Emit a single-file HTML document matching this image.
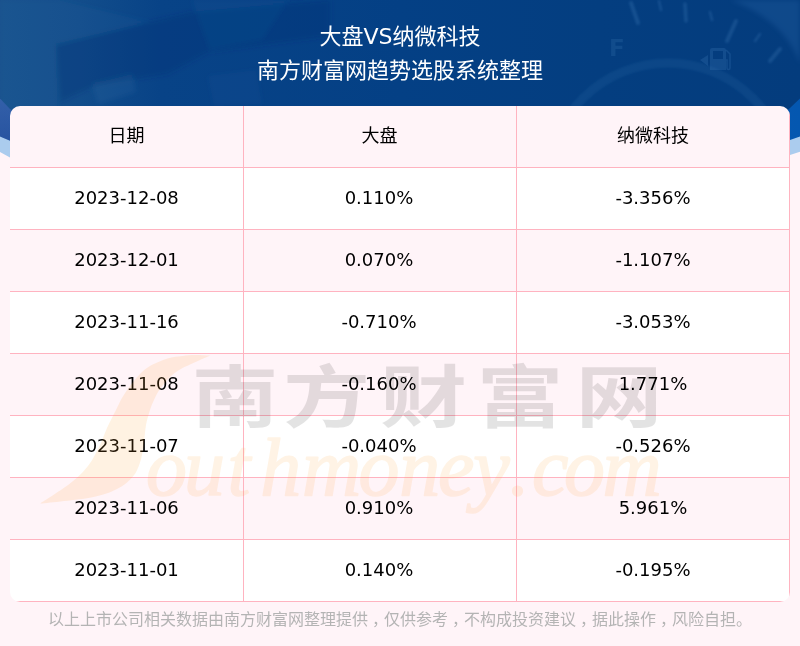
<!DOCTYPE html>
<html lang="zh-CN">
<head>
<meta charset="utf-8">
<title>大盘VS纳微科技</title>
<style>
html,body{margin:0;padding:0;}
body{width:800px;height:646px;position:relative;overflow:hidden;background:#fff4f8;font-family:"DejaVu Sans","Noto Sans CJK SC",sans-serif;}
#hdr{position:absolute;left:0;top:0;width:800px;height:170px;display:block;}
.title{position:absolute;left:0;top:20px;width:800px;text-align:center;color:#fff;font-size:22px;line-height:34px;}
table{position:absolute;left:10px;top:106px;width:780px;border-collapse:separate;border-spacing:0;border-radius:10px;overflow:hidden;table-layout:fixed;}
td,th{height:59px;padding:0 0 2px;border-right:1px solid #ffb3c0;border-bottom:1px solid #ffb3c0;text-align:center;vertical-align:middle;font-size:18px;font-weight:normal;color:#000;background:#fff;}
th{background:#fff4f8;height:56px;padding-bottom:5px;}
tr.alt td{background:#fff4f8;}
td:nth-child(2){padding-right:2px;}
th:nth-child(2){padding-right:1px;}
.foot{position:absolute;left:0;top:604.5px;width:800px;text-align:center;font-size:16px;line-height:26px;color:#b4b4b4;font-family:"Noto Sans CJK SC",sans-serif;}
#wm{position:absolute;left:0;top:0;width:800px;height:646px;pointer-events:none;}
.foot i{font-style:normal;position:relative;left:4px;}
</style>
</head>
<body>
<svg id="hdr" viewBox="0 0 800 170">
<defs>
<linearGradient id="gd" x1="0" y1="0" x2="1" y2="0">
<stop offset="0" stop-color="#17528d"/><stop offset="0.1" stop-color="#124d8b"/><stop offset="0.2" stop-color="#084387"/><stop offset="0.5" stop-color="#044085"/><stop offset="0.75" stop-color="#043e80"/><stop offset="1" stop-color="#043c7d"/>
</linearGradient>
<linearGradient id="gm" x1="0" y1="0" x2="1" y2="0">
<stop offset="0" stop-color="#3562ab"/><stop offset="1" stop-color="#0457b0"/>
</linearGradient>
<filter id="bl" x="-10%" y="-10%" width="120%" height="120%"><feGaussianBlur stdDeviation="2.5"/></filter>
<linearGradient id="gv" x1="0" y1="0" x2="0" y2="1"><stop offset="0" stop-color="#002a80" stop-opacity="0"/><stop offset="1" stop-color="#002a80" stop-opacity=".25"/></linearGradient>
<filter id="b2" x="-20%" y="-20%" width="140%" height="140%"><feGaussianBlur stdDeviation="1"/></filter>
<clipPath id="cd"><path d="M0 0H800V98.4L790 108L770 125H30L10 109L0 98.4Z"/></clipPath>
</defs>
<path d="M0 0H800V151.7L790 155L700 170H100L10 157.6L0 152Z" fill="#abccee"/>
<path d="M0 0H800V136.6L790 139.9L700 160H100L10 140.8L0 136.6Z" fill="url(#gm)"/>
<path d="M0 90V136.6L10 140.8V100Z" fill="url(#gv)"/>
<g clip-path="url(#cd)">
<rect width="800" height="170" fill="url(#gd)"/>
<g filter="url(#bl)">
<polygon points="56,44 192,12 330,0 330,36 208,52 168,74 94,86 60,102" fill="#003274" opacity=".30"/>
<polygon points="0,0 60,0 150,22 56,46 58,110 0,110" fill="#2a6aa8" opacity=".10"/>
<polygon points="192,0 288,0 262,40 210,50" fill="#2a6aa8" opacity=".10"/>
<polygon points="92,84 132,74 136,92 98,104" fill="#3a78b4" opacity=".13"/>
<polygon points="208,76 256,70 262,104 214,106" fill="#3a78b4" opacity=".08"/>
</g>
<circle cx="668" cy="183" r="120" fill="none" stroke="#4a8fd0" stroke-opacity=".10" stroke-width="9" filter="url(#b2)"/>
<path d="M730 0Q785 20 800 64V0Z" fill="#3a7cc0" opacity=".20" filter="url(#bl)"/>
<g stroke="#5a95d0" stroke-opacity=".20" stroke-linecap="round" filter="url(#b2)">
<path d="M631 3L638 23" stroke-width="4"/>
<path d="M659 1L661 10" stroke-width="2.5"/>
<path d="M685 4L686 21" stroke-width="3.5"/>
<path d="M710 12L712 20" stroke-width="2.5"/>
<path d="M736 21L727 41" stroke-width="4"/>
<path d="M760 34L755 41" stroke-width="2.5"/>
<path d="M780 49L770 61" stroke-width="4"/>
</g>
<text x="609" y="56" font-family="DejaVu Sans,sans-serif" font-weight="bold" font-size="23" fill="#5a95d0" fill-opacity=".16">F</text>
<g fill="#5a95d0" fill-opacity=".18">
<path d="M700 60L708 55V66Z"/>
<path d="M712 48h12a2 2 0 0 1 2 2v20h-16V50a2 2 0 0 1 2-2zM713 51v8h10v-8z" fill-rule="evenodd"/>
<path d="M726 50l4 4v14a1.5 1.5 0 0 1-3 0v-8h-1" fill="none" stroke="#5a95d0" stroke-opacity=".18" stroke-width="1.6"/>
</g>
</g>
</svg>
<div class="title">大盘VS纳微科技<br>南方财富网趋势选股系统整理</div>
<table>
<colgroup><col style="width:234px"><col style="width:273px"><col style="width:273px"></colgroup>
<tr><th>日期</th><th>大盘</th><th>纳微科技</th></tr>
<tr><td>2023-12-08</td><td>0.110%</td><td>-3.356%</td></tr>
<tr class="alt"><td>2023-12-01</td><td>0.070%</td><td>-1.107%</td></tr>
<tr><td>2023-11-16</td><td>-0.710%</td><td>-3.053%</td></tr>
<tr class="alt"><td>2023-11-08</td><td>-0.160%</td><td>1.771%</td></tr>
<tr><td>2023-11-07</td><td>-0.040%</td><td>-0.526%</td></tr>
<tr class="alt"><td>2023-11-06</td><td>0.910%</td><td>5.961%</td></tr>
<tr><td>2023-11-01</td><td>0.140%</td><td>-0.195%</td></tr>
</table>
<svg id="wm" viewBox="0 0 800 646" role="img">
<title>南方财富网 Southmoney.com</title>
<path d="M210.5 355.6C207.9 355.5 199.7 354.9 195.0 355.0C190.3 355.1 187.1 355.4 182.5 356.0C177.9 356.6 172.9 356.8 167.5 358.5C162.1 360.2 154.6 363.4 150.0 366.0C145.4 368.6 143.3 370.7 140.0 374.0C136.7 377.3 133.0 382.0 130.0 386.0C127.0 390.0 124.3 394.0 122.0 398.0C119.7 402.0 118.5 405.0 116.0 410.0C113.5 415.0 109.7 422.2 107.0 428.0C104.3 433.8 103.2 438.7 100.0 445.0C96.8 451.3 93.0 459.6 88.0 466.0C83.0 472.4 77.9 477.3 70.0 483.5C62.1 489.7 45.4 500.0 40.5 503.3L40.5 503.6C48.9 502.6 78.2 500.0 91.0 497.5C103.8 495.0 110.5 492.2 117.5 488.7C124.5 485.2 129.2 480.9 133.0 476.5C136.8 472.1 138.2 467.8 140.0 462.5C141.8 457.2 142.7 451.2 143.7 445.0C144.7 438.8 144.9 430.8 146.0 425.0C147.1 419.2 148.7 414.2 150.0 410.0C151.3 405.8 152.3 403.5 154.0 400.0C155.7 396.5 157.3 392.8 160.0 389.0C162.7 385.2 166.7 380.2 170.0 377.0C173.3 373.8 176.7 371.6 180.0 369.5C183.3 367.4 186.7 366.1 190.0 364.5C193.3 362.9 196.6 361.5 200.0 360.0C203.4 358.5 208.8 356.3 210.5 355.6Z" fill="#ffa030" fill-opacity=".14"/>
<text transform="scale(1.28 1)" x="149.6 221.1 296.9 372.2 449.6" y="422.5" font-family="'Noto Sans CJK SC',sans-serif" font-weight="700" font-size="68" fill="#000" fill-opacity=".11">南方财富网</text>
<text x="146 183.9 227.5 260.3 302.1 358.5 399.3 438 473.2 509.2 532 564 602.6" y="495" font-family="'Liberation Serif',serif" font-style="italic" font-size="82" fill="#ffa030" stroke="#ffa030" stroke-width="1.6" stroke-linejoin="round" opacity=".12">outhmoney.com</text>
</svg>
<div class="foot">以上上市公司相关数据由南方财富网整理提供<i>，</i>仅供参考<i>，</i>不构成投资建议<i>，</i>据此操作<i>，</i>风险自担。</div>
</body>
</html>
